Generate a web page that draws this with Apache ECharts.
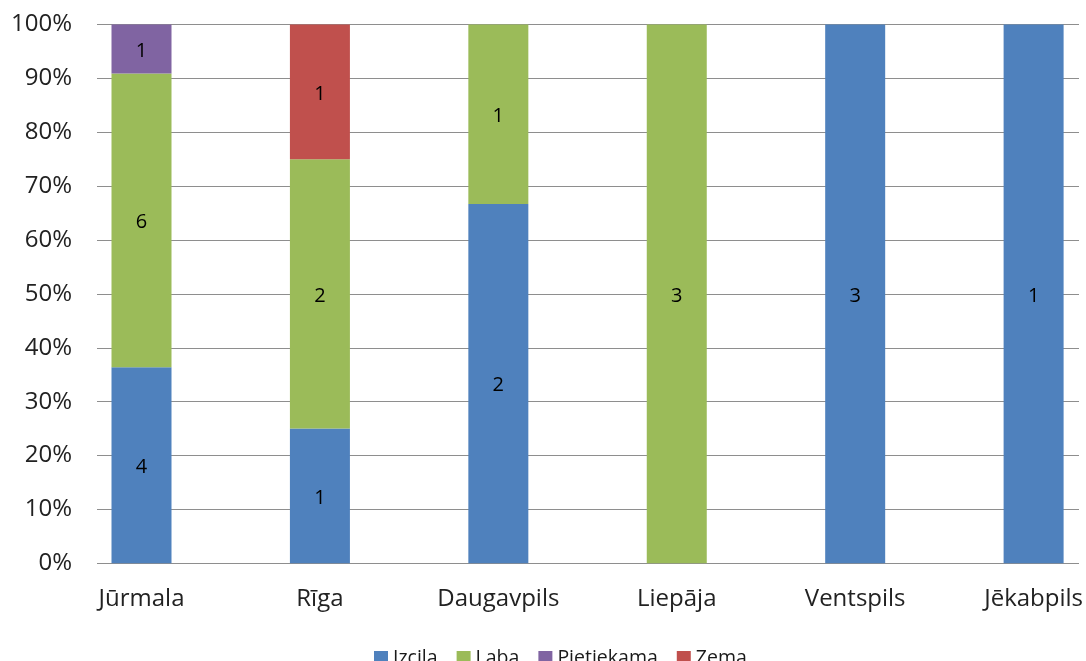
<!DOCTYPE html>
<html>
<head>
<meta charset="utf-8">
<script src="https://cdn.jsdelivr.net/npm/echarts@6/dist/echarts.min.js"></script>
<style>
html,body{margin:0;padding:0;background:#fff;}
#c{width:1086px;height:661px;}
</style>
</head>
<body>
<div id="c"></div>
<script>
const categories = ['Jūrmala', 'Rīga', 'Daugavpils', 'Liepāja', 'Ventspils', 'Jēkabpils'];
const seriesNames = ['Izcila', 'Laba', 'Pietiekama', 'Zema'];
const izcila = [4, 1, 2, 0, 3, 1];
const laba = [6, 2, 1, 3, 0, 0];
const pietiekama = [1, 0, 0, 0, 0, 0];
const zema = [0, 1, 0, 0, 0, 0];
const yTicks = [0, 10, 20, 30, 40, 50, 60, 70, 80, 90, 100];

const colors = ['#4F81BD', '#9BBB59', '#8064A2', '#C0504D'];
const counts = [izcila, laba, pietiekama, zema];
const totals = categories.map((_, i) => counts.reduce((s, arr) => s + arr[i], 0));
const FONT = 'Open Sans';

const chart = echarts.init(document.getElementById('c'), null, {renderer: 'canvas'});

const series = counts.map((arr, k) => ({
  name: seriesNames[k],
  type: 'bar',
  stack: 'total',
  xAxisIndex: 1,
  yAxisIndex: 1,
  barWidth: 60,
  clip: false,
  itemStyle: {color: colors[k]},
  label: {
    show: true,
    position: 'inside',
    color: '#000',
    fontFamily: FONT,
    fontSize: 20,
    offset: [0, 2],
    formatter: p => String(arr[p.dataIndex])
  },
  data: arr.map((v, i) => v === 0 ? null : v / totals[i] * 100)
}));

chart.setOption({
  animation: false,
  color: colors,
  textStyle: {fontFamily: FONT},
  grid: [
    {left: 97, right: 7, top: 24.5, bottom: 97.7},
    {left: 141.5, right: 51.5, top: 24.5, bottom: 97.7}
  ],
  legend: {
    data: seriesNames,
    icon: 'rect',
    itemWidth: 14,
    itemHeight: 14,
    itemGap: 19,
    left: 369,
    top: 643,
    textStyle: {fontFamily: FONT, fontSize: 19.5, fontWeight: 500, color: '#1a1a1a'}
  },
  xAxis: [
    {gridIndex: 0, type: 'category', data: categories, show: false},
    {
      gridIndex: 1, type: 'category', data: categories, boundaryGap: false,
      axisLine: {show: false}, axisTick: {show: false}, splitLine: {show: false},
      axisLabel: {fontFamily: FONT, fontSize: 24, color: '#222', margin: 24, interval: 0}
    }
  ],
  yAxis: [
    {
      gridIndex: 0, type: 'value', min: yTicks[0], max: yTicks[yTicks.length - 1], interval: 10,
      axisLine: {show: false}, axisTick: {show: false},
      splitLine: {show: true, lineStyle: {color: '#8e8e8e', width: 1}},
      axisLabel: {fontFamily: FONT, fontSize: 24, color: '#222', margin: 25, formatter: '{value}%'}
    },
    {gridIndex: 1, type: 'value', min: 0, max: 100, show: false}
  ],
  series: series
});
</script>
</body>
</html>
